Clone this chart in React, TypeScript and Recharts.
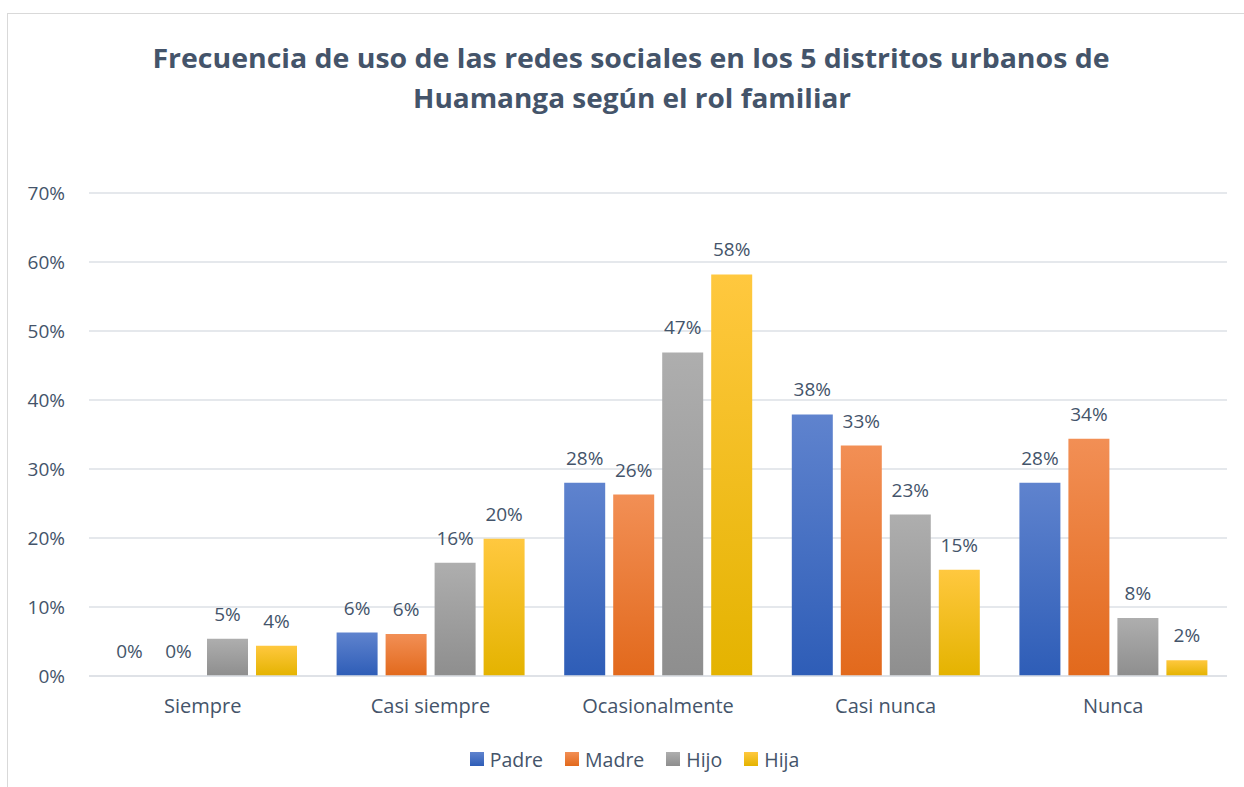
import { BarChart, Bar, XAxis, YAxis, CartesianGrid, LabelList, Legend } from 'recharts'

const categories = ['Siempre', 'Casi siempre', 'Ocasionalmente', 'Casi nunca', 'Nunca']
const padre = [0, 0.063, 0.28, 0.379, 0.28]
const madre = [0, 0.061, 0.263, 0.334, 0.344]
const hijo = [0.054, 0.164, 0.469, 0.234, 0.084]
const hija = [0.044, 0.199, 0.582, 0.154, 0.023]
const yTicks = [0, 0.1, 0.2, 0.3, 0.4, 0.5, 0.6, 0.7]

const data = categories.map((name, i) => ({
  name,
  Padre: padre[i],
  Madre: madre[i],
  Hijo: hijo[i],
  Hija: hija[i],
}))

const series = [
  { key: 'Padre', top: '#5F83CE', bottom: '#2E5DB7' },
  { key: 'Madre', top: '#F28F55', bottom: '#E2691C' },
  { key: 'Hijo', top: '#AEAEAE', bottom: '#8E8E8E' },
  { key: 'Hija', top: '#FFC83F', bottom: '#E4B300' },
]

const textColor = '#44546A'
const font = '"Open Sans", sans-serif'
const pct = (v: number) => `${Math.round(v * 100)}%`

function LegendContent() {
  return (
    <div style={{ display: 'flex', justifyContent: 'center', alignItems: 'center', height: 26, gap: 22, paddingLeft: 42, fontFamily: font, fontSize: 19.5, color: textColor }}>
      {series.map((s) => (
        <div key={s.key} style={{ display: 'flex', alignItems: 'center', gap: 6 }}>
          <svg width={14} height={14}>
            <rect width={14} height={14} fill={`url(#grad-${s.key})`} />
          </svg>
          <span>{s.key}</span>
        </div>
      ))}
    </div>
  )
}

export default function App() {
  return (
    <div style={{ position: 'absolute', left: 0, top: 0, width: 1244, height: 787, overflow: 'hidden', background: '#fff' }}>
      <div style={{ position: 'absolute', left: 7, top: 13, width: 1260, height: 800, border: '1px solid #D9D9D9' }} />
      <svg style={{ position: 'absolute', left: 0, top: 0 }} width={1244} height={130}>
        <text x={631} y={68} textAnchor="middle" fontFamily={font} fontWeight={700} fontSize={27} fill={textColor} textLength={957} lengthAdjust="spacingAndGlyphs">
          Frecuencia de uso de las redes sociales en los 5 distritos urbanos de
        </text>
        <text x={632} y={108} textAnchor="middle" fontFamily={font} fontWeight={700} fontSize={27} fill={textColor} textLength={438} lengthAdjust="spacingAndGlyphs">
          Huamanga según el rol familiar
        </text>
      </svg>
      <div style={{ position: 'absolute', left: 0, top: 0 }}>
        <BarChart
          width={1244}
          height={787}
          data={data}
          margin={{ top: 193, right: 17, bottom: 15, left: 0 }}
          barCategoryGap={20}
          barGap={8}
        >
          <defs>
            {series.map((s) => (
              <linearGradient key={s.key} id={`grad-${s.key}`} x1="0" y1="0" x2="0" y2="1">
                <stop offset="0%" stopColor={s.top} />
                <stop offset="100%" stopColor={s.bottom} />
              </linearGradient>
            ))}
          </defs>
          <CartesianGrid vertical={false} stroke="#DCE0E6" strokeWidth={1.5} />
          <XAxis
            dataKey="name"
            height={70}
            tickSize={0}
            tickMargin={23}
            axisLine={{ stroke: '#DCE0E6', strokeWidth: 1.5 }}
            tick={{ fill: textColor, fontSize: 20, fontFamily: font }}
          />
          <YAxis
            width={89}
            domain={[0, 0.7]}
            ticks={yTicks}
            tickFormatter={pct}
            tickSize={0}
            tickMargin={24}
            axisLine={false}
            tick={{ fill: textColor, fontSize: 19, fontFamily: font }}
          />
          <Legend verticalAlign="bottom" content={<LegendContent />} />
          {series.map((s) => (
            <Bar key={s.key} dataKey={s.key} fill={`url(#grad-${s.key})`} minPointSize={0.1} isAnimationActive={false}>
              <LabelList
                dataKey={s.key}
                position="top"
                offset={18}
                formatter={(v: any) => pct(Number(v))}
                style={{ fill: textColor, fontSize: 19, fontFamily: font }}
              />
            </Bar>
          ))}
        </BarChart>
      </div>
    </div>
  )
}
